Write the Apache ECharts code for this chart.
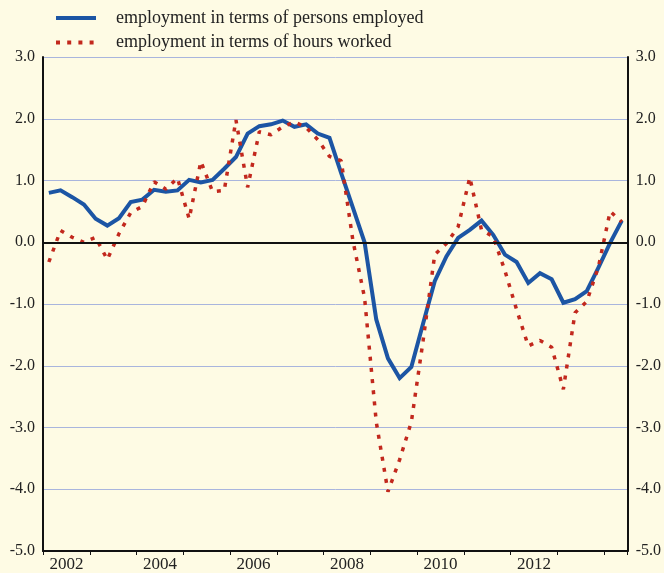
<!DOCTYPE html>
<html>
<head>
<meta charset="utf-8">
<script src="https://cdn.jsdelivr.net/npm/echarts@6/dist/echarts.min.js"></script>
<style>
  html, body { margin: 0; padding: 0; background: #fefbe4; }
  #chart { width: 664px; height: 573px; }
</style>
</head>
<body>
<div id="chart"></div>
<script>
// Quarterly change, 2002 Q1 - 2014 Q2
const startYear = 2002;
const quarterCount = 50;

const personsEmployed = [
  0.80, 0.84, 0.73, 0.61, 0.38, 0.27, 0.39, 0.65, 0.69, 0.85,
  0.82, 0.84, 1.01, 0.97, 1.01, 1.19, 1.38, 1.76, 1.88, 1.91,
  1.97, 1.87, 1.91, 1.76, 1.69, 1.12, 0.56, 0.00, -1.25, -1.88,
  -2.20, -2.02, -1.32, -0.63, -0.23, 0.07, 0.20, 0.35, 0.12, -0.20,
  -0.32, -0.66, -0.50, -0.60, -0.98, -0.92, -0.79, -0.41, -0.01, 0.35
];

const hoursWorked = [
  -0.32, 0.19, 0.08, 0.00, 0.08, -0.28, 0.14, 0.48, 0.58, 0.98,
  0.86, 1.04, 0.38, 1.31, 0.82, 0.84, 1.98, 0.89, 1.79, 1.74,
  1.87, 1.95, 1.86, 1.66, 1.39, 1.32, 0.03, -0.90, -2.91, -4.04,
  -3.52, -2.91, -1.60, -0.20, -0.02, 0.25, 1.05, 0.20, 0.09, -0.46,
  -1.09, -1.68, -1.59, -1.70, -2.38, -1.14, -0.96, -0.40, 0.50, 0.33
];

const yearLabels = ['2002', '2004', '2006', '2008', '2010', '2012'];
const seriesNames = [
  'employment in terms of persons employed',
  'employment in terms of hours worked'
];

// each quarter sits in the middle of its slot on the time axis
const quarterPos = [];
for (let i = 0; i < quarterCount; i++) quarterPos.push(startYear + (i + 0.5) / 4);

const pair = arr => arr.map((v, i) => [quarterPos[i], v]);

const serif = '"Liberation Serif", "DejaVu Serif", serif';
const ink = '#222222';
const gridBlue = '#a9b5dd';
const blue = '#1c55a4';
const red = '#c2281d';
const dotPattern = [4, 7.2];

const chart = echarts.init(document.getElementById('chart'), null, { renderer: 'canvas' });

const yAxisCommon = {
  type: 'value',
  min: -5,
  max: 3,
  interval: 1,
  axisLine: { show: true, lineStyle: { color: '#111', width: 2 } },
  axisTick: { show: false },
  axisLabel: {
    margin: 8,
    color: ink,
    fontFamily: serif,
    fontSize: 16,
    formatter: v => v.toFixed(1)
  }
};

chart.setOption({
  backgroundColor: '#fefbe4',
  animation: false,
  grid: { left: 43, right: 33, top: 57, bottom: 20, containLabel: false },
  legend: {
    orient: 'vertical',
    left: 49,
    top: 4,
    itemWidth: 40,
    itemHeight: 14,
    itemGap: 6.5,
    selectedMode: false,
    itemStyle: { opacity: 0 },
    textStyle: { fontFamily: serif, fontSize: 18, color: ink, padding: [0, 0, 0, 15] },
    data: [
      { name: seriesNames[0], lineStyle: { color: blue, width: 4, type: 'solid' } },
      { name: seriesNames[1], lineStyle: { color: red, width: 4, type: dotPattern, cap: 'butt' } }
    ]
  },
  xAxis: [
    {
      // year boundaries with tick marks
      type: 'value',
      min: startYear,
      max: startYear + quarterCount / 4,
      interval: 1,
      axisLine: { show: true, onZero: false, lineStyle: { color: '#111', width: 2 } },
      axisTick: { show: true, inside: false, length: 4, lineStyle: { color: '#111', width: 1 } },
      axisLabel: { show: false },
      splitLine: { show: false }
    },
    {
      // year labels centred within each year
      type: 'value',
      position: 'bottom',
      min: startYear,
      max: startYear + quarterCount / 4,
      interval: 0.5,
      axisLine: { show: false },
      axisTick: { show: false },
      splitLine: { show: false },
      axisLabel: {
        margin: 5,
        color: ink,
        fontFamily: serif,
        fontSize: 17,
        formatter: v => {
          const s = String(Math.floor(v));
          return (Math.abs(v - Math.floor(v) - 0.5) < 1e-6 && yearLabels.includes(s)) ? s : '';
        }
      }
    }
  ],
  yAxis: [
    Object.assign({}, yAxisCommon, {
      position: 'left',
      splitLine: { show: true, lineStyle: { color: gridBlue, width: 1 } }
    }),
    Object.assign({}, yAxisCommon, {
      position: 'right',
      splitLine: { show: false }
    })
  ],
  series: [
    {
      name: seriesNames[0],
      type: 'line',
      xAxisIndex: 0,
      yAxisIndex: 0,
      data: pair(personsEmployed),
      symbol: 'none',
      showSymbol: false,
      z: 3,
      lineStyle: { color: blue, width: 4, join: 'miter' },
      itemStyle: { color: blue },
      markLine: {
        silent: true,
        symbol: 'none',
        label: { show: false },
        lineStyle: { color: '#111', width: 2, type: 'solid' },
        data: [{ yAxis: 0 }]
      }
    },
    {
      name: seriesNames[1],
      type: 'line',
      xAxisIndex: 0,
      yAxisIndex: 0,
      data: pair(hoursWorked),
      symbol: 'none',
      showSymbol: false,
      z: 4,
      lineStyle: { color: red, width: 3.5, type: dotPattern, cap: 'butt' },
      itemStyle: { color: red }
    }
  ]
});
</script>
</body>
</html>
